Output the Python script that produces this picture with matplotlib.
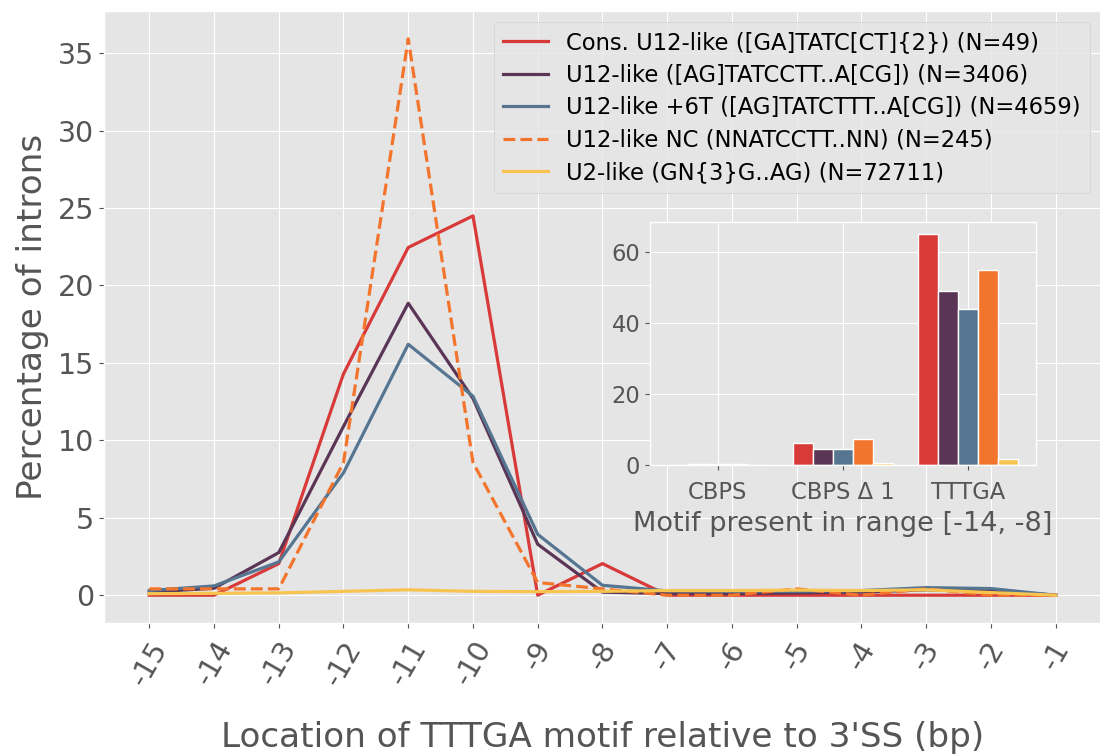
import matplotlib
matplotlib.use("Agg")
import matplotlib.pyplot as plt
import numpy as np

plt.style.use("ggplot")
plt.rcParams["font.family"] = ["DejaVu Sans"]
plt.rcParams["font.size"] = 20

# Positions of the motif relative to the 3' splice site
positions = [-15, -14, -13, -12, -11, -10, -9, -8, -7, -6, -5, -4, -3, -2, -1]

series_labels = [
    "Cons. U12-like ([GA]TATC[CT]{2}) (N=49)",
    "U12-like ([AG]TATCCTT..A[CG]) (N=3406)",
    "U12-like +6T ([AG]TATCTTT..A[CG]) (N=4659)",
    "U12-like NC (NNATCCTT..NN) (N=245)",
    "U2-like (GN{3}G..AG) (N=72711)",
]
series_colors = ["#D83A3A", "#5A3555", "#557591", "#F3752D", "#F8C450"]
series_styles = ["-", "-", "-", "--", "-"]

cons_u12 = [0.0, 0.0, 2.04, 14.29, 22.45, 24.49, 0.0, 2.04, 0.0, 0.0, 0.0, 0.0, 0.0, 0.0, 0.0]
u12 = [0.2, 0.45, 2.75, 10.9, 18.85, 12.7, 3.29, 0.2, 0.1, 0.1, 0.15, 0.2, 0.35, 0.3, 0.0]
u12_6t = [0.3, 0.6, 2.15, 7.9, 16.2, 12.85, 3.93, 0.64, 0.28, 0.25, 0.25, 0.3, 0.49, 0.43, 0.0]
u12_nc = [0.41, 0.41, 0.41, 8.57, 35.92, 8.57, 0.82, 0.41, 0.0, 0.0, 0.41, 0.0, 0.41, 0.0, 0.0]
u2 = [0.1, 0.12, 0.15, 0.25, 0.35, 0.25, 0.23, 0.25, 0.3, 0.3, 0.33, 0.3, 0.35, 0.17, 0.0]
series_values = [cons_u12, u12, u12_6t, u12_nc, u2]

# Inset: share of introns with each motif in range [-14, -8]
motif_categories = ["CBPS", "CBPS Δ 1", "TTTGA"]
cbps = [0.0, 0.15, 0.2, 0.41, 0.02]
cbps_d1 = [6.12, 4.5, 4.5, 7.35, 0.65]
tttga = [65.31, 49.1, 44.0, 54.9, 1.6]
motif_values = [cbps, cbps_d1, tttga]

fig = plt.figure(figsize=(11.0, 7.54), dpi=100)
ax = fig.add_axes([0.0945, 0.1737, 0.9064, 0.8117])

for vals, lab, col, ls in zip(series_values, series_labels, series_colors, series_styles):
    ax.plot(positions, vals, color=col, linestyle=ls, linewidth=2.3, label=lab)

ax.set_xticks(positions)
ax.set_xticklabels([str(p) for p in positions], rotation=60, fontsize=20.5)
ax.tick_params(axis="x", pad=6)
ax.tick_params(axis="y", labelsize=20.5)
ax.set_xlabel("Location of TTTGA motif relative to 3'SS (bp)", fontsize=24.7, labelpad=22)
ax.set_ylabel("Percentage of introns", fontsize=24.7, labelpad=6)
ax.legend(loc="upper right", fontsize=16.3, framealpha=0.8, labelspacing=0.42)

# Inset bar chart
ins = fig.add_axes([0.5909, 0.3833, 0.3509, 0.3223])
n = len(series_colors)
width = 0.16
group_x = np.arange(len(motif_categories))
for i in range(n):
    heights = [mv[i] for mv in motif_values]
    ins.bar(group_x + (i - (n - 1) / 2) * width, heights, width=width,
            color=series_colors[i], edgecolor="white", linewidth=1.0)
ins.set_xticks(group_x)
ins.set_xticklabels(motif_categories, fontsize=16.3)
ins.tick_params(axis="x", pad=8)
ins.tick_params(axis="y", labelsize=16.3)
ins.set_yticks([0, 20, 40, 60])
ins.set_xlabel("Motif present in range [-14, -8]", fontsize=19.5, labelpad=5)

fig.savefig("out.png", dpi=100)
